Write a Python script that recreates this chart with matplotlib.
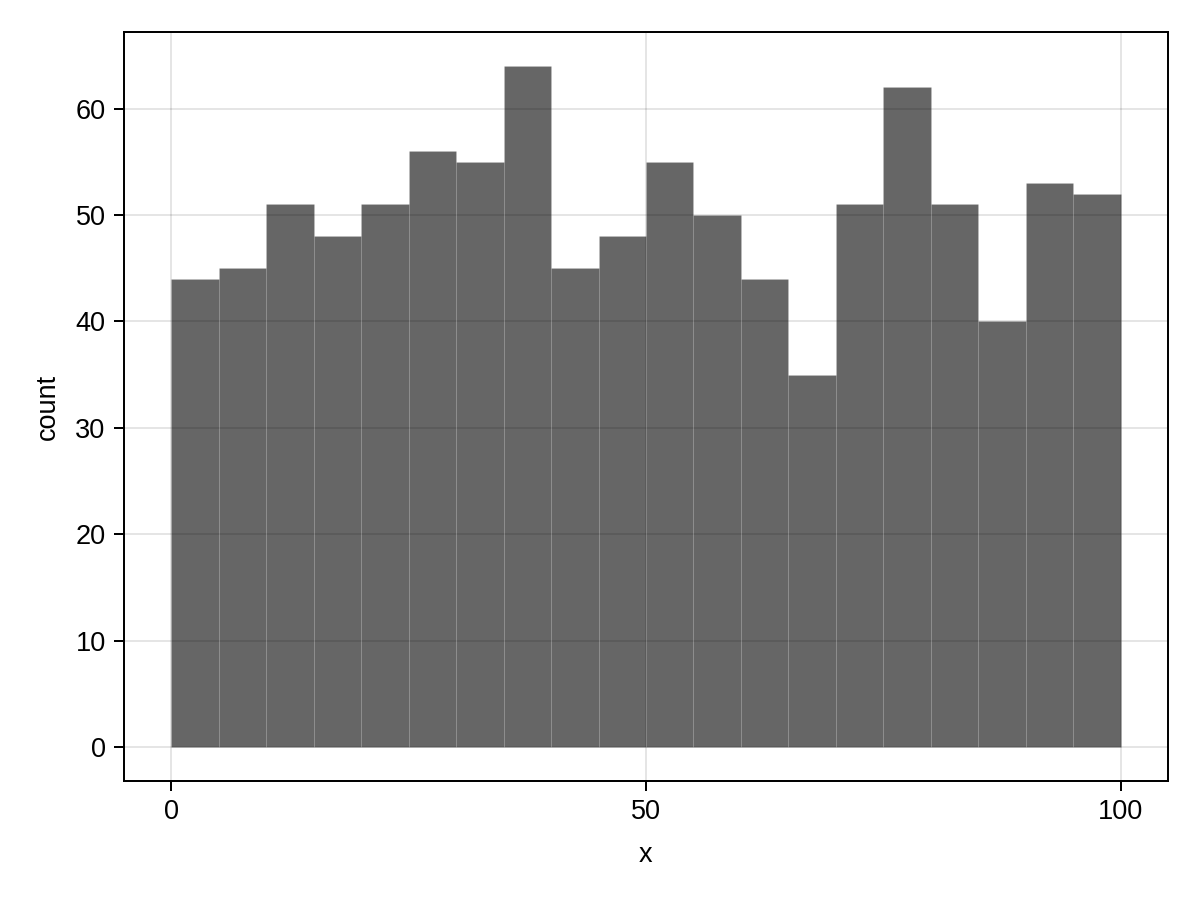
import numpy as np
import matplotlib
matplotlib.use("Agg")
import matplotlib.pyplot as plt

# histogram counts, bins of width 5 from 0 to 100
bin_edges = [0, 5, 10, 15, 20, 25, 30, 35, 40, 45, 50,
             55, 60, 65, 70, 75, 80, 85, 90, 95, 100]
counts = [44, 45, 51, 48, 51, 56, 55, 64, 45, 48,
          55, 50, 44, 35, 51, 62, 51, 40, 53, 52]
x_ticks = [0, 50, 100]
y_ticks = [0, 10, 20, 30, 40, 50, 60]

plt.rcParams['font.family'] = ['Liberation Sans', 'DejaVu Sans']
plt.rcParams['font.size'] = 13

fig = plt.figure(figsize=(8, 6), dpi=150)
ax = fig.add_axes([0.1033, 0.1322, 0.87, 0.8322])

edges = np.array(bin_edges)
widths = np.diff(edges)
ax.bar(edges[:-1], counts, width=widths, align='edge',
       color=(0, 0, 0, 0.6), edgecolor=(1, 1, 1, 0.1), linewidth=0.5, zorder=2)

ax.set_xlim(-5.0, 105.0)
ax.set_ylim(-3.2, 67.2)
ax.set_xticks(x_ticks)
ax.set_yticks(y_ticks)
ax.grid(True, color='black', alpha=0.12, linewidth=0.8, zorder=0)
ax.set_axisbelow(True)

for s in ax.spines.values():
        s.set_linewidth(0.95)
ax.tick_params(direction='out', length=4.8, width=0.95, pad=4)

ax.set_xlabel('x', labelpad=8)
ax.set_ylabel('count', labelpad=7)

fig.savefig('out.png', dpi=150)
